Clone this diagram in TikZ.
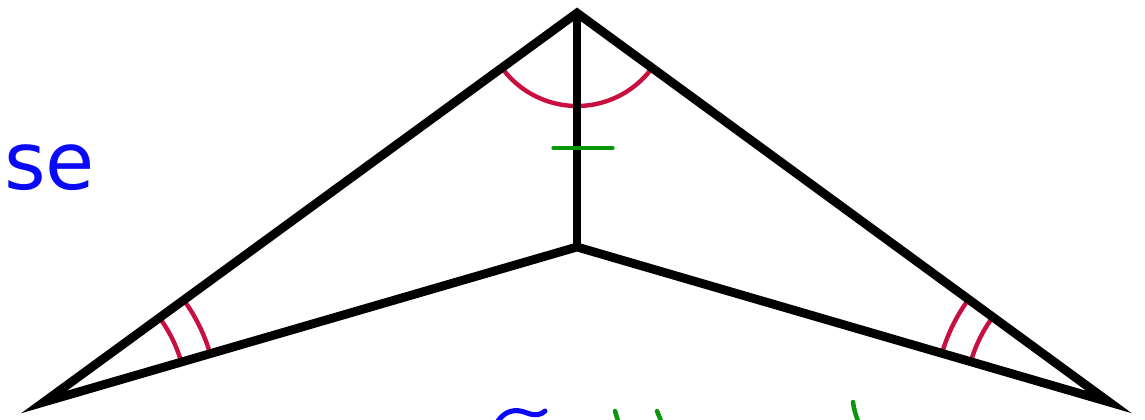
\documentclass[tikz,border=0pt]{standalone}
\usepackage{fontspec}
\newfontfamily\handfont{DejaVu Sans}
\definecolor{angred}{RGB}{200,16,64}
\definecolor{tickgreen}{RGB}{10,150,10}
\definecolor{inkblue}{RGB}{10,10,245}
\begin{document}
\begin{tikzpicture}[x=0.75pt,y=-0.75pt,
  edge/.style={line width=6.6pt, line join=miter, miter limit=10},
  angmark/.style={draw=angred, line width=3.3pt},
  tickmark/.style={draw=tickgreen, line width=2.4pt, line cap=round},
  blueink/.style={draw=inkblue, line width=3.8pt, line cap=round},
  greenink/.style={draw=tickgreen, line width=3.4pt, line cap=round}]
\useasboundingbox (0,0) rectangle (1145,420);
\coordinate (T) at (577,13);
\coordinate (M) at (577,247);
\coordinate (L) at (44,402);
\coordinate (R) at (1109,402);
\coordinate (tA) at (553,148);
\coordinate (tB) at (613,148);
% angle marks
\draw[angmark] plot[domain=36.2:143.9, samples=60] ({577+93*cos(\x)},{13+93*sin(\x)});
\draw[angmark] plot[domain=-36.1:-16.2, samples=30] ({44+143*cos(\x)},{402+143*sin(\x)});
\draw[angmark] plot[domain=-36.1:-16.2, samples=30] ({44+173*cos(\x)},{402+173*sin(\x)});
\draw[angmark] plot[domain=196.3:216.2, samples=30] ({1109+144*cos(\x)},{402+144*sin(\x)});
\draw[angmark] plot[domain=196.3:216.2, samples=30] ({1109+174*cos(\x)},{402+174*sin(\x)});
% figure
\draw[edge] (T) -- (L) -- (M) -- (R) -- cycle;
\draw[edge] (T) -- (M);
% tick on common side
\draw[tickmark] (tA) -- (tB);
% handwritten text
\node[anchor=base west, inner sep=0pt, text=inkblue, font=\handfont\fontsize{60}{62}\selectfont] (se) at (4,190) {se};
% cut-off handwriting at the bottom edge
\draw[blueink] (498,421) .. controls (505,411) and (515,408) .. (527,413) .. controls (535,416) and (541,415) .. (545,411);
\draw[greenink] (615,411) -- (618,421);
\draw[greenink] (657,411) -- (661,421);
\draw[greenink] (853,402) .. controls (854,410) and (856,416) .. (858,421);
\end{tikzpicture}
\end{document}
